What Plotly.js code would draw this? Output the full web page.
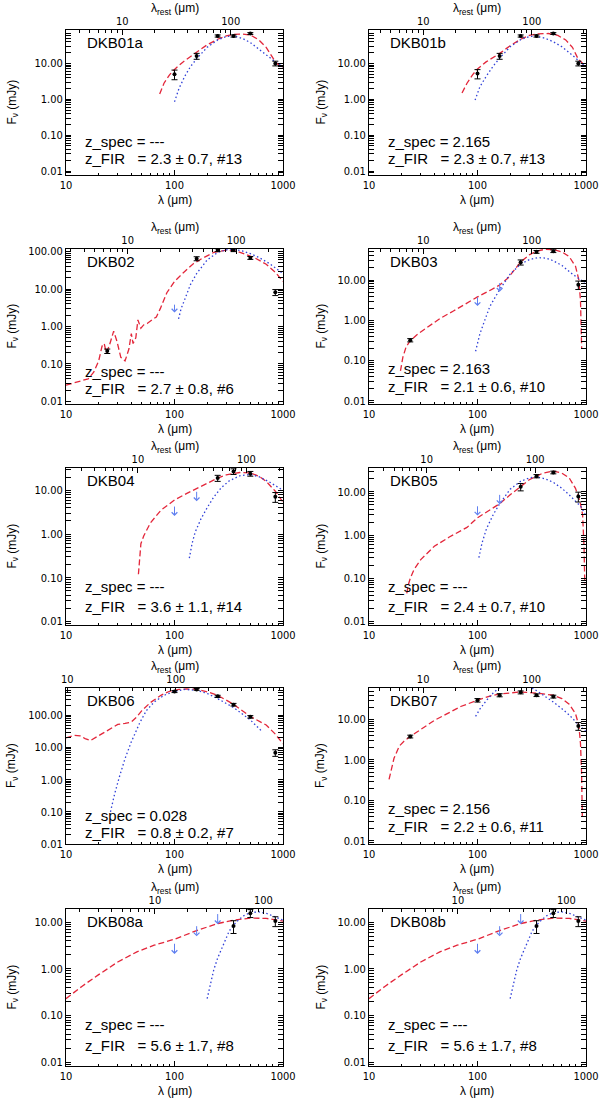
<!DOCTYPE html>
<html>
<head>
<meta charset="utf-8">
<script src="https://cdn.plot.ly/plotly-3.0.1.min.js"></script>
<style>
  body { margin: 0; background: white; }
  #grafico { width: 600px; height: 1102px; }
</style>
</head>
<body>
<div id="grafico"></div>
<script>
// Panel labels and redshifts
const panelNames = ["DKB01a", "DKB01b", "DKB02", "DKB03", "DKB04", "DKB05", "DKB06", "DKB07", "DKB08a", "DKB08b"];
const zSpecText = ["---", "2.165", "---", "2.163", "---", "---", "0.028", "2.156", "---", "---"];
const zFirText = ["2.3 ± 0.7, #13", "2.3 ± 0.7, #13", "2.7 ± 0.8, #6", "2.1 ± 0.6, #10", "3.6 ± 1.1, #14",
                  "2.4 ± 0.7, #10", "0.8 ± 0.2, #7", "2.2 ± 0.6, #11", "5.6 ± 1.7, #8", "5.6 ± 1.7, #8"];
// redshift used for the rest-frame axis on top
const zRest = [2.3, 2.165, 2.7, 2.163, 3.6, 2.4, 0.028, 2.156, 5.6, 5.6];

// DKB01a
const ptLam01a = [100, 160, 250, 350, 500, 850];
const ptFlux01a = [5.0, 16, 58, 58, 68, 10];
const ptErr01a = [1.5, 3, 4, 4, 4, 1.5];
const redLam01a = [73, 80, 90, 100, 120, 160, 200, 250, 300, 350, 420, 500, 600, 700, 850, 1000];
const redFlux01a = [1.4, 2.8, 4.8, 6.8, 11, 20, 33, 47, 58, 64, 66, 62, 45, 28, 11, 7.2];
const blueLam01a = [100, 110, 125, 140, 160, 200, 250, 300, 350, 420, 500, 600, 700, 850, 1000];
const blueFlux01a = [0.85, 2.0, 4.5, 8, 13.5, 28, 45, 56, 58, 50, 38, 25, 17, 11, 8];

// DKB01b
const ptLam01b = [100, 160, 250, 350, 500, 850];
const ptFlux01b = [5.2, 16, 58, 58, 68, 10];
const ptErr01b = [1.5, 3, 4, 4, 4, 1.5];
const redLam01b = [72, 80, 90, 100, 120, 160, 200, 250, 300, 350, 450, 550, 650, 750, 850, 1000];
const redFlux01b = [1.5, 2.8, 4.8, 7, 11, 19, 31, 47, 60, 66, 68, 60, 45, 28, 13, 8];
const blueLam01b = [95, 105, 120, 140, 160, 200, 250, 300, 350, 420, 500, 600, 700, 850, 1000];
const blueFlux01b = [0.95, 2.2, 4.3, 8.5, 14, 29, 46, 56, 57, 50, 40, 29, 20, 12, 8];

// DKB02
const ptLam02 = [24, 160, 250, 350, 500, 850];
const ptFlux02 = [0.22, 65, 110, 110, 68, 8.2];
const ptErr02 = [0.03, 8, 10, 10, 6, 1.5];
const limLam02 = [100];
const limFlux02 = [4.2];
const redLam02 = [10, 13, 16, 18, 20, 21.5, 22.5, 23.5, 25, 27.5, 29.5, 32, 35, 38, 40, 41.5, 44, 46, 49, 52, 56, 62,
                  68, 74, 85, 100, 120, 150, 180, 230, 300, 370, 450, 550, 700, 850, 1000];
const redFlux02 = [0.027, 0.033, 0.04, 0.06, 0.12, 0.3, 0.35, 0.2, 0.3, 0.75, 0.4, 0.15, 0.12, 0.25, 0.65, 0.35, 0.5,
                   1.5, 0.9, 1.1, 1.2, 1.5, 1.8, 3, 8, 16, 27, 48, 66, 95, 110, 105, 85, 68, 46, 28, 16];
const blueLam02 = [109, 115, 125, 140, 160, 200, 250, 300, 350, 420, 500, 600, 750, 1000];
const blueFlux02 = [1.6, 3, 5.5, 13, 26, 60, 95, 112, 115, 105, 88, 70, 48, 26];

// DKB03
const ptLam03 = [24, 250, 350, 500, 850];
const ptFlux03 = [0.32, 27.5, 50, 52, 7.6];
const ptErr03 = [0.03, 4, 4, 4, 1.8];
const limLam03 = [100, 160];
const limFlux03 = [4.0, 9.1];
const redLam03 = [19.5, 20.5, 22, 24, 28, 35, 45, 60, 80, 100, 130, 160, 190, 220, 250, 300, 350, 420, 500, 600, 700,
                  800, 860, 890, 905, 912];
const redFlux03 = [0.055, 0.12, 0.22, 0.31, 0.45, 0.7, 1.1, 1.7, 2.7, 3.8, 5.5, 7.5, 11, 18, 28, 42, 52, 58, 57, 50,
                   38, 22, 10, 3, 0.6, 0.2];
const blueLam03 = [96, 105, 115, 130, 160, 200, 250, 300, 360, 430, 500, 600, 750, 900, 1000];
const blueFlux03 = [0.17, 0.45, 0.9, 2.2, 5.8, 14, 25, 32, 36, 35, 30, 23, 14, 10, 7.5];

// DKB04
const ptLam04 = [250, 350, 500, 850];
const ptFlux04 = [19, 27, 24, 7.1];
const ptErr04 = [3, 4, 3, 1.8];
const limLam04 = [100, 160];
const limFlux04 = [4.6, 10];
const redLam04 = [46.5, 47.5, 49, 52, 60, 75, 100, 130, 160, 200, 250, 300, 400, 500, 600, 700, 850, 1000];
const redFlux04 = [0.12, 0.3, 0.6, 0.9, 1.8, 3.5, 6, 8.5, 11, 14.5, 19, 22.5, 25.5, 25, 21, 16, 9.5, 5.4];
const blueLam04 = [137, 145, 155, 175, 200, 230, 270, 320, 400, 500, 600, 750, 1000];
const blueFlux04 = [0.28, 0.6, 1.1, 2.2, 4, 7, 11.5, 16.5, 21.5, 23, 20.5, 15.5, 10];

// DKB05
const ptLam05 = [250, 350, 500, 850];
const ptFlux05 = [13, 23, 28, 7.8];
const ptErr05 = [2.5, 2, 2, 2];
const limLam05 = [100, 160];
const limFlux05 = [5.0, 9.2];
const redLam05 = [22.3, 23, 24, 26, 30, 40, 55, 80, 100, 130, 160, 200, 250, 300, 400, 500, 600, 700, 800, 880, 930,
                  960, 975];
const redFlux05 = [0.045, 0.07, 0.1, 0.16, 0.27, 0.55, 0.9, 1.5, 2.5, 3.8, 5.3, 8.5, 13, 19, 27, 30, 27, 21, 12, 6,
                   3, 0.5, 0.07];
const blueLam05 = [103, 110, 121, 140, 160, 200, 250, 300, 350, 420, 500, 600, 700, 800, 900, 1000];
const blueFlux05 = [0.3, 0.65, 1.4, 3, 5.3, 11.5, 17.5, 21, 22, 20, 16.5, 12, 8.5, 6, 4.5, 2.8];

// DKB06
const ptLam06 = [100, 160, 250, 350, 500, 850];
const ptFlux06 = [550, 640, 390, 215, 90, 6.9];
const ptErr06 = [40, 40, 30, 20, 8, 1.6];
const redLam06 = [10, 12, 13.5, 15, 16.8, 19, 22, 26, 30, 35, 40, 45, 50, 60, 75, 90, 110, 130, 160, 200, 250, 350,
                  500, 700, 850, 1000];
const redFlux06 = [20, 24, 23, 19, 16.5, 21, 28, 40, 52, 56, 62, 90, 140, 250, 420, 560, 640, 660, 640, 540, 420, 220,
                   92, 50, 26, 13];
const blueLam06 = [25.7, 28, 31, 35, 40, 48, 55, 65, 80, 100, 125, 160, 200, 250, 350, 500, 650];
const blueFlux06 = [0.1, 0.35, 1.2, 4.5, 15, 60, 140, 260, 420, 560, 640, 600, 480, 330, 175, 72, 30];

// DKB07
const ptLam07 = [24, 100, 160, 250, 350, 500, 850];
const ptFlux07 = [3.8, 30, 40, 47, 40, 37, 6.9];
const ptErr07 = [0.3, 3, 3.5, 4, 3, 3, 1.5];
const redLam07 = [15.3, 16, 17, 19, 21, 24, 30, 40, 50, 70, 100, 130, 160, 250, 350, 500, 600, 700, 800, 860, 890,
                  910, 925];
const redFlux07 = [0.33, 0.6, 1.1, 2.2, 2.9, 3.8, 5.7, 9.5, 13, 21, 30, 38, 43, 48, 45, 40, 33, 24, 14, 7, 2.5, 0.5,
                   0.04];
const blueLam07 = [96, 105, 120, 140, 160, 200, 250, 300, 350, 420, 500, 600, 700, 850, 1000];
const blueFlux07 = [12, 18, 29, 46, 62, 80, 78, 65, 52, 38, 27, 18.5, 13, 7.5, 5];

// DKB08a / DKB08b
const ptLam08 = [350, 500, 850];
const ptFlux08 = [8.2, 15.5, 10.5];
const ptErr08 = [2.5, 3, 2.5];
const limLam08 = [100, 160, 250];
const limFlux08 = [3.7, 8.8, 16];
const redLam08 = [10, 14, 20, 30, 45, 65, 100, 160, 250, 350, 500, 700, 1000];
const redFlux08 = [0.23, 0.42, 0.75, 1.4, 2.3, 3.2, 4.3, 6.6, 9.3, 11, 12.2, 12, 10.5];
const blueLam08 = [200, 215, 230, 250, 280, 320, 370, 430, 500, 600, 700, 850, 1000];
const blueFlux08 = [0.23, 0.5, 0.95, 1.7, 3.2, 6.5, 10, 13.5, 16, 16.5, 15.5, 13, 11];

// Tabela dos painéis
const panels = [
  { pts: [ptLam01a, ptFlux01a, ptErr01a], lim: [[], []], red: [redLam01a, redFlux01a], blue: [blueLam01a, blueFlux01a] },
  { pts: [ptLam01b, ptFlux01b, ptErr01b], lim: [[], []], red: [redLam01b, redFlux01b], blue: [blueLam01b, blueFlux01b] },
  { pts: [ptLam02, ptFlux02, ptErr02], lim: [limLam02, limFlux02], red: [redLam02, redFlux02], blue: [blueLam02, blueFlux02] },
  { pts: [ptLam03, ptFlux03, ptErr03], lim: [limLam03, limFlux03], red: [redLam03, redFlux03], blue: [blueLam03, blueFlux03] },
  { pts: [ptLam04, ptFlux04, ptErr04], lim: [limLam04, limFlux04], red: [redLam04, redFlux04], blue: [blueLam04, blueFlux04] },
  { pts: [ptLam05, ptFlux05, ptErr05], lim: [limLam05, limFlux05], red: [redLam05, redFlux05], blue: [blueLam05, blueFlux05] },
  { pts: [ptLam06, ptFlux06, ptErr06], lim: [[], []], red: [redLam06, redFlux06], blue: [blueLam06, blueFlux06] },
  { pts: [ptLam07, ptFlux07, ptErr07], lim: [[], []], red: [redLam07, redFlux07], blue: [blueLam07, blueFlux07] },
  { pts: [ptLam08, ptFlux08, ptErr08], lim: [limLam08, limFlux08], red: [redLam08, redFlux08], blue: [blueLam08, blueFlux08] },
  { pts: [ptLam08, ptFlux08, ptErr08], lim: [limLam08, limFlux08], red: [redLam08, redFlux08], blue: [blueLam08, blueFlux08] }
];

// y ranges (log10) per panel
const yRanges = [[-2.11, 1.93], [-2.11, 1.93], [-2.07, 2.07], [-2.08, 1.77], [-2.08, 1.51],
                 [-2.08, 1.55], [-2.0, 2.85], [-2.08, 1.78], [-2.08, 1.28], [-2.08, 1.28]];

// pixel frame of each row / column
const W = 600, H = 1102;
const rowTop = [30, 249, 468, 688, 909];
const rowBot = [175, 404, 625, 844, 1066];
const colLeft = [66, 369];
const colRight = [283, 586];

const RED = "#e3263a", BLUE = "#3040d8", ARROW = "#5f7ff0";
const tickFont = { family: "Liberation Sans Narrow, DejaVu Sans Condensed, Liberation Sans", size: 11, color: "black" };
const textFont = { family: "Liberation Sans, Arial, sans-serif", size: 15, color: "black" };
const titleFont = { family: "Liberation Sans, Arial, sans-serif", size: 12, color: "black" };

function minorList(decades) {
  const out = [];
  decades.forEach(d => { for (let k = 2; k <= 9; k++) out.push(k * d); });
  return out;
}
const minorX = minorList([1, 10, 100, 1000]);
const minorY = minorList([0.001, 0.01, 0.1, 1, 10, 100]);

const traces = [];
const layout = {
  width: W, height: H,
  margin: { l: 0, r: 0, t: 0, b: 0 },
  showlegend: false,
  paper_bgcolor: "white", plot_bgcolor: "white",
  annotations: []
};

const axisCommon = {
  type: "log", ticks: "inside", ticklen: 5, tickwidth: 1, tickcolor: "black",
  showline: true, linecolor: "black", linewidth: 1, showgrid: false, zeroline: false,
  tickfont: tickFont, tickmode: "array"
};

panels.forEach((p, i) => {
  const row = Math.floor(i / 2), col = i % 2;
  const nb = 2 * i + 1, nt = 2 * i + 2, ny = i + 1;
  const xb = nb === 1 ? "x" : "x" + nb;
  const xt = "x" + nt;
  const yk = ny === 1 ? "y" : "y" + ny;
  const xd = [colLeft[col] / W, colRight[col] / W];
  const yd = [1 - rowBot[row] / H, 1 - rowTop[row] / H];
  const lz = Math.log10(1 + zRest[i]);
  const hPx = rowBot[row] - rowTop[row];
  const pxPerDex = hPx / (yRanges[i][1] - yRanges[i][0]);

  layout[nb === 1 ? "xaxis" : "xaxis" + nb] = Object.assign({}, axisCommon, {
    domain: xd, anchor: yk, range: [1, 3], mirror: true,
    tickvals: [10, 100, 1000], ticktext: ["10", "100", "1000"],
    minor: { tickmode: "array", tickvals: minorX, ticks: "inside", ticklen: 2.5, tickcolor: "black" }
  });
  layout["xaxis" + nt] = Object.assign({}, axisCommon, {
    overlaying: xb, side: "top", anchor: yk, range: [1 - lz, 3 - lz],
    tickvals: [1, 10, 100, 1000], ticktext: ["1", "10", "100", "1000"],
    minor: { tickmode: "array", tickvals: minorX, ticks: "inside", ticklen: 2.5, tickcolor: "black" }
  });
  layout[ny === 1 ? "yaxis" : "yaxis" + ny] = Object.assign({}, axisCommon, {
    domain: yd, anchor: xb, range: yRanges[i], mirror: "allticks",
    tickvals: [0.01, 0.1, 1, 10, 100], ticktext: ["0.01", "0.10", "1.00", "10.00", "100.00"],
    minor: { tickmode: "array", tickvals: minorY, ticks: "inside", ticklen: 2.5, tickcolor: "black" }
  });

  // modelo vermelho (tracejado) e azul (pontilhado)
  traces.push({ x: p.red[0], y: p.red[1], xaxis: xb, yaxis: yk, mode: "lines",
                line: { color: RED, width: 1.3, dash: "6px,3px" }, hoverinfo: "skip" });
  traces.push({ x: p.blue[0], y: p.blue[1], xaxis: xb, yaxis: yk, mode: "lines",
                line: { color: BLUE, width: 1.3, dash: "1.5px,2.5px" }, hoverinfo: "skip" });
  // pontos medidos
  traces.push({ x: p.pts[0], y: p.pts[1], xaxis: xb, yaxis: yk, mode: "markers",
                marker: { color: "black", size: 4 },
                error_y: { type: "data", array: p.pts[2], color: "black", thickness: 1, width: 3 } });
  // dummy on the top axis so it gets drawn
  traces.push({ x: [], y: [], xaxis: xt, yaxis: yk, mode: "markers", hoverinfo: "skip" });

  // limites superiores
  p.lim[0].forEach((lam, k) => {
    const lv = Math.log10(p.lim[1][k]);
    layout.annotations.push({
      xref: xb, yref: yk, axref: xb, ayref: yk,
      x: Math.log10(lam), y: lv - 0.25, ax: Math.log10(lam), ay: lv,
      text: "", showarrow: true, arrowhead: 4, arrowsize: 1.1, arrowwidth: 1, arrowcolor: ARROW
    });
  });

  // textos
  const firY = -1.65;
  const specY = Math.max(-1.2, firY + 17 / pxPerDex);
  layout.annotations.push({ xref: xb + " domain", yref: yk + " domain", x: 0.088, y: 1 - 12 / hPx,
    xanchor: "left", yanchor: "middle", text: panelNames[i], showarrow: false, font: textFont });
  layout.annotations.push({ xref: xb + " domain", yref: yk, x: 0.08, y: specY,
    xanchor: "left", yanchor: "middle", text: "z_spec = " + zSpecText[i], showarrow: false, font: textFont });
  layout.annotations.push({ xref: xb + " domain", yref: yk, x: 0.08, y: firY,
    xanchor: "left", yanchor: "middle", text: "z_FIR\u00a0\u00a0\u00a0= " + zFirText[i], showarrow: false, font: textFont });

  // axis titles
  const xc = (colLeft[col] + colRight[col]) / 2 / W;
  layout.annotations.push({ xref: "paper", yref: "paper", x: xc, y: 1 - (rowBot[row] + 25) / H,
    xanchor: "center", yanchor: "middle", text: "λ (μm)", showarrow: false, font: titleFont });
  layout.annotations.push({ xref: "paper", yref: "paper", x: xc, y: 1 - (rowTop[row] - 21) / H,
    xanchor: "center", yanchor: "middle", text: "λ<sub>rest</sub> (μm)", showarrow: false, font: titleFont });
  layout.annotations.push({ xref: "paper", yref: "paper", x: (col ? 321 : 12) / W,
    y: 1 - (rowTop[row] + rowBot[row]) / 2 / H, xanchor: "center", yanchor: "middle", textangle: -90,
    text: "F<sub>ν</sub> (mJy)", showarrow: false, font: titleFont });
});

Plotly.newPlot("grafico", traces, layout, { staticPlot: true });
</script>
</body>
</html>
